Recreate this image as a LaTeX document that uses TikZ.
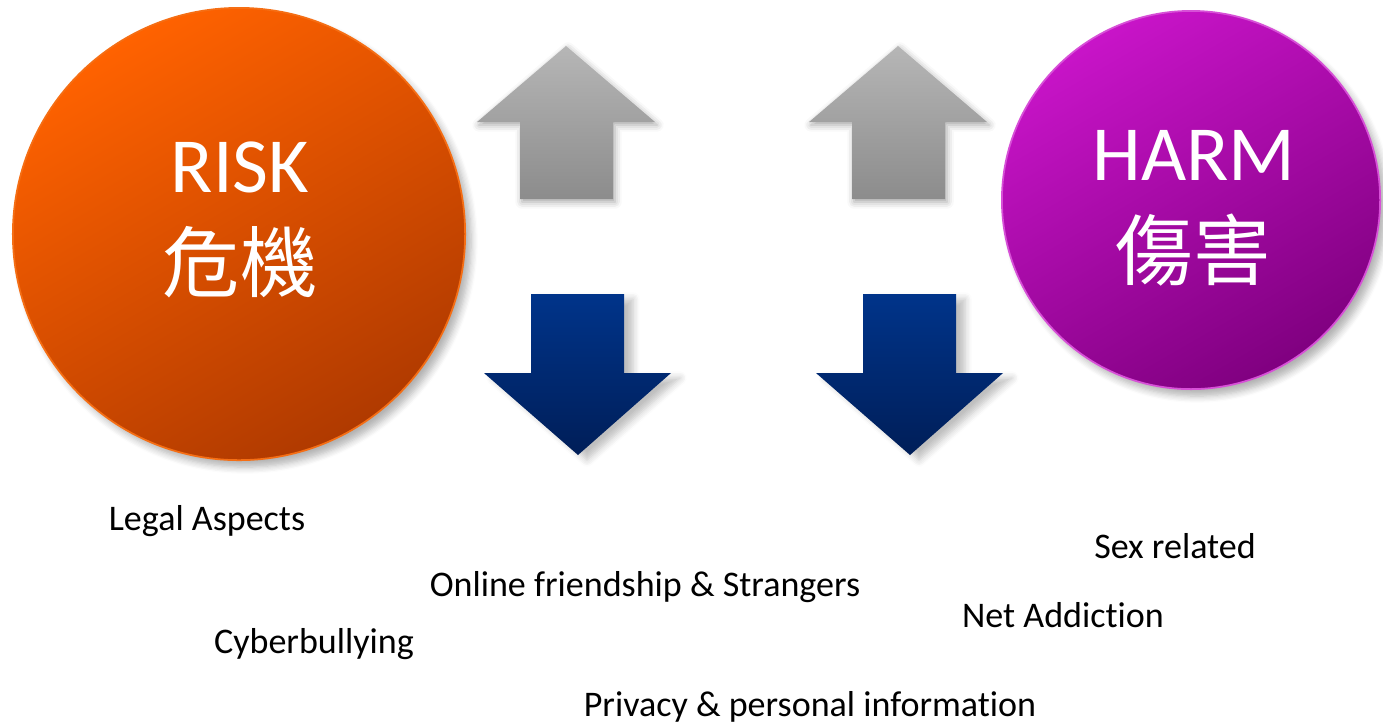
\documentclass[tikz,border=0pt]{standalone}
\usepackage{fontspec}
\setmainfont{Carlito}[Ligatures=NoCommon]
\newfontfamily\cjk{Noto Sans CJK TC}
\usetikzlibrary{shadows.blur}
\definecolor{orTop}{RGB}{255,98,0}
\definecolor{orBot}{RGB}{176,58,0}
\definecolor{orEdge}{RGB}{245,110,20}
\definecolor{puTop}{RGB}{200,20,200}
\definecolor{puBot}{RGB}{128,0,128}
\definecolor{puEdge}{RGB}{215,80,215}
\definecolor{grTop}{RGB}{182,182,182}
\definecolor{grBot}{RGB}{140,140,140}
\definecolor{nvTop}{RGB}{0,52,138}
\definecolor{nvBot}{RGB}{0,30,88}
\tikzset{
  bigcircle/.style={circle, inner sep=0pt, line width=0.5pt,
    blur shadow={shadow xshift=0.06cm, shadow yshift=-0.07cm, shadow opacity=30, shadow blur steps=6}},
  riskfill/.style={bigcircle, minimum size=4.52cm, draw=orEdge, top color=orTop, bottom color=orBot, shading angle=30},
  harmfill/.style={bigcircle, minimum size=3.78cm, draw=puEdge, top color=puTop, bottom color=puBot, shading angle=30},
  bigtext/.style={text=white, font=\fontsize{22.2}{26}\selectfont, anchor=base, inner sep=0pt},
  cjktext/.style={text=white, font=\cjk\fontsize{22}{26}\selectfont, anchor=base, inner sep=0pt},
  label/.style={font=\fontsize{10.25}{12.3}\selectfont, anchor=base, inner sep=0pt, text=black},
  uparrow/.style={top color=grTop, bottom color=grBot, draw=none,
    blur shadow={shadow xshift=0.02cm, shadow yshift=-0.03cm, shadow opacity=35, shadow blur steps=4}},
  downarrow/.style={top color=nvTop, bottom color=nvBot, draw=none,
    blur shadow={shadow xshift=0.09cm, shadow yshift=-0.05cm, shadow opacity=25, shadow blur steps=5}},
}
\begin{document}
\begin{tikzpicture}[x=0.01cm, y=-0.01cm]
\useasboundingbox (0,0) rectangle (1383,726);
% circles
\node[riskfill] (risk) at (239,234) {};
\node[harmfill] (harm) at (1191,200) {};
\node[bigtext] (riskEn) at (240,192) {RISK};
\node[cjktext] (riskZh) at (240,291) {危機};
\node[bigtext] (harmEn) at (1194,180) {HARM};
\node[cjktext] (harmZh) at (1193,279) {傷害};
% up arrows
\path[uparrow] (566,46) -- (655,122) -- (613,122) -- (613,199) -- (520,199) -- (520,122) -- (477,122) -- cycle;
\path[uparrow] (898,46) -- (987,122) -- (945,122) -- (945,199) -- (852,199) -- (852,122) -- (809,122) -- cycle;
% down arrows
\path[downarrow] (531,294) -- (624,294) -- (624,373) -- (671,373) -- (578,455) -- (484,373) -- (531,373) -- cycle;
\path[downarrow] (863,294) -- (956,294) -- (956,373) -- (1003,373) -- (910,455) -- (816,373) -- (863,373) -- cycle;
% labels
\node[label] (legal) at (207,530) {Legal Aspects};
\node[label] (sex) at (1175,558) {Sex related};
\node[label] (online) at (645,596) {Online friendship \& Strangers};
\node[label] (net) at (1063,627) {Net Addiction};
\node[label] (cyber) at (314,653) {Cyberbullying};
\node[label] (privacy) at (810,716) {Privacy \& personal information};
\end{tikzpicture}
\end{document}
